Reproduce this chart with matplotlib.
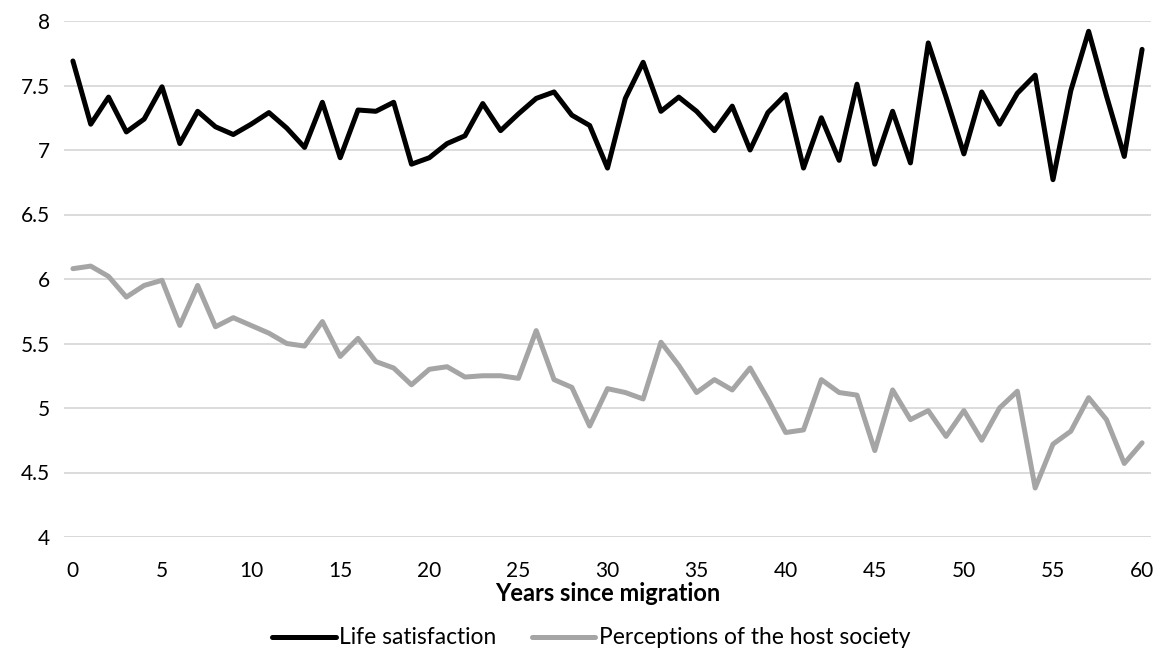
import matplotlib
matplotlib.use("Agg")
import matplotlib.pyplot as plt
import numpy as np

years = list(range(0, 61))

life_satisfaction = [
    7.69, 7.20, 7.41, 7.14, 7.24, 7.49, 7.05, 7.30, 7.18, 7.12,
    7.20, 7.29, 7.17, 7.02, 7.37, 6.94, 7.31, 7.30, 7.37, 6.89,
    6.94, 7.05, 7.11, 7.36, 7.15, 7.28, 7.40, 7.45, 7.27, 7.19,
    6.86, 7.40, 7.68, 7.30, 7.41, 7.30, 7.15, 7.34, 7.00, 7.29,
    7.43, 6.86, 7.25, 6.92, 7.51, 6.89, 7.30, 6.90, 7.83, 7.41,
    6.97, 7.45, 7.20, 7.44, 7.58, 6.77, 7.46, 7.92, 7.42, 6.95,
    7.78,
]

host_perceptions = [
    6.08, 6.10, 6.02, 5.86, 5.95, 5.99, 5.64, 5.95, 5.63, 5.70,
    5.64, 5.58, 5.50, 5.48, 5.67, 5.40, 5.54, 5.36, 5.31, 5.18,
    5.30, 5.32, 5.24, 5.25, 5.25, 5.23, 5.60, 5.22, 5.16, 4.86,
    5.15, 5.12, 5.07, 5.51, 5.33, 5.12, 5.22, 5.14, 5.31, 5.07,
    4.81, 4.83, 5.22, 5.12, 5.10, 4.67, 5.14, 4.91, 4.98, 4.78,
    4.98, 4.75, 5.00, 5.13, 4.38, 4.72, 4.82, 5.08, 4.91, 4.57,
    4.73,
]

x_ticks = list(range(0, 61, 5))
y_ticks = [4, 4.5, 5, 5.5, 6, 6.5, 7, 7.5, 8]
y_tick_labels = ["4", "4.5", "5", "5.5", "6", "6.5", "7", "7.5", "8"]

plt.rcParams["font.family"] = ["Lato", "DejaVu Sans"]

W, H = 1161, 650
fig = plt.figure(figsize=(W / 100, H / 100), dpi=100)
ax = fig.add_axes([64 / W, 1 - 537 / H, (1151 - 64) / W, (537 - 21) / H])

ax.plot(years, life_satisfaction, color="black", lw=3.6,
        solid_joinstyle="round", solid_capstyle="round", label="Life satisfaction", zorder=3)
ax.plot(years, host_perceptions, color="#A5A5A5", lw=3.6,
        solid_joinstyle="round", solid_capstyle="round",
        label="Perceptions of the host society", zorder=3)

ax.set_xlim(-0.5, 60.5)
ax.set_ylim(4, 8)
ax.set_xticks(x_ticks)
ax.set_yticks(y_ticks)
ax.set_yticklabels(y_tick_labels)
ax.tick_params(axis="both", length=0, labelsize=15, labelcolor="black")
ax.tick_params(axis="x", pad=17)
ax.tick_params(axis="y", pad=10)

ax.grid(axis="y", color="#D9D9D9", lw=1.3, zorder=0)
for s in ax.spines.values():
    s.set_visible(False)
ax.axhline(4, color="#D9D9D9", lw=1.3, zorder=1)

ax.set_xlabel("Years since migration", fontsize=17, fontweight="bold", labelpad=1)

fig.legend(loc="center", bbox_to_anchor=(591 / W, 1 - 638 / H), ncol=2,
           frameon=False, fontsize=16.4, handlelength=2.8, handletextpad=0.15,
           columnspacing=1.55, borderpad=0)

fig.savefig("out.png", dpi=100)
